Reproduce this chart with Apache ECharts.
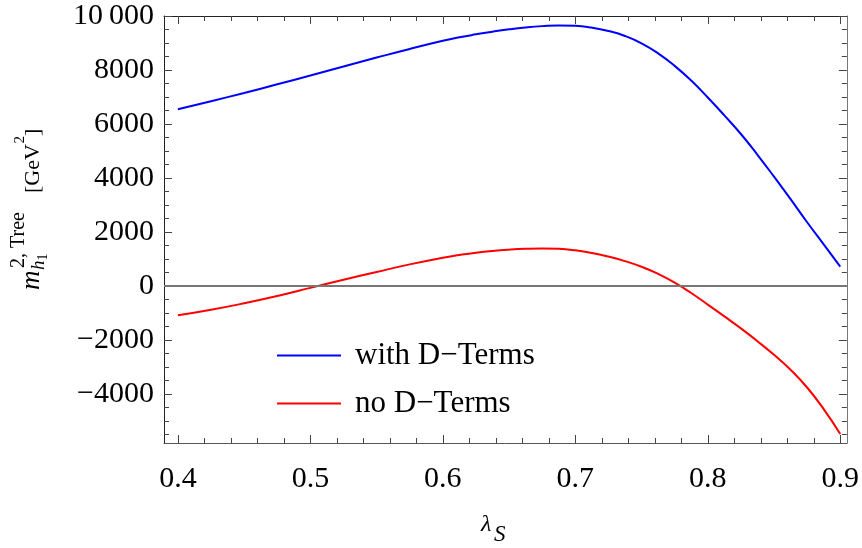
<!DOCTYPE html>
<html><head><meta charset="utf-8">
<script src="https://cdn.jsdelivr.net/npm/echarts@6/dist/echarts.min.js"></script>
<style>html,body{margin:0;padding:0;background:#fff}#c{width:862px;height:548px}</style>
</head><body><div id="c"></div>
<script>
// ---- data ----
const lambdaS = [0.400, 0.425, 0.450, 0.475, 0.500, 0.525, 0.550, 0.575, 0.600, 0.6125, 0.625, 0.6375, 0.650, 0.6625, 0.675, 0.6875,
                 0.700, 0.7125, 0.725, 0.7375, 0.750, 0.7625, 0.775, 0.7875, 0.800, 0.8125, 0.825, 0.8375, 0.850, 0.8625, 0.875, 0.8875, 0.900];
const valBlue = [6544, 6845, 7150, 7470, 7795, 8130, 8460, 8780, 9080, 9210, 9320, 9420, 9506, 9575, 9625, 9652,
                 9641, 9570, 9444, 9260, 8988, 8618, 8153, 7608, 6980, 6320, 5630, 4860, 4050, 3215, 2360, 1540, 716];
const valRed  = [-1086, -880, -640, -370, -70, 230, 520, 800, 1050, 1150, 1235, 1300, 1346, 1376, 1388, 1375,
                 1320, 1225, 1090, 920, 715, 450, 125, -260, -690, -1125, -1570, -2045, -2550, -3100, -3760, -4560, -5481];
const seriesNames = ['with D\u2212Terms', 'no D\u2212Terms'];
const xTicks = [0.4, 0.5, 0.6, 0.7, 0.8, 0.9];
const yTicks = [-4000, -2000, 0, 2000, 4000, 6000, 8000, 10000];

const X_MIN = 0.3895, X_MAX = 0.905, Y_MIN = -5815, Y_MAX = 10000;
const xMinor = [];
for (let k = 20; k <= 45; k++) if (k % 5 !== 0) xMinor.push(+(k * 0.02).toFixed(2));
const yMinor = [];
for (let v = -5500; v <= 9500; v += 500) if (v % 2000 !== 0) yMinor.push(v);

const FONT = '"Liberation Serif", "DejaVu Serif", serif';

function yFmt(v) {
  if (v === 10000) return '10\u2009000';
  if (v < 0) return '\u2212' + Math.abs(v);
  return String(v);
}

function xAx(pos, ticks, len, showLine, showLabel, lineColor) {
  return {
    type: 'value', position: pos, min: X_MIN, max: X_MAX, gridIndex: 0,
    axisLine: { show: showLine, onZero: false, lineStyle: { color: lineColor, width: 1 } },
    axisTick: { show: true, inside: true, length: len, customValues: ticks, lineStyle: { color: '#444', width: 1 } },
    axisLabel: { show: showLabel, customValues: ticks, margin: 21, fontFamily: FONT, fontSize: 30, color: '#000' },
    splitLine: { show: false }, minorTick: { show: false }
  };
}
function yAx(pos, ticks, len, showLine, showLabel, lineColor) {
  return {
    type: 'value', position: pos, min: Y_MIN, max: Y_MAX, gridIndex: 0,
    axisLine: { show: showLine, onZero: false, lineStyle: { color: lineColor, width: 1 } },
    axisTick: { show: true, inside: true, length: len, customValues: ticks, lineStyle: { color: '#444', width: 1 } },
    axisLabel: { show: showLabel, customValues: ticks, margin: 10, fontFamily: FONT, fontSize: 30, color: '#000', formatter: yFmt },
    splitLine: { show: false }, minorTick: { show: false }
  };
}

function txt(text, u, vBase, fs, italic) {
  return { type: 'text', style: { text: text, x: u, y: vBase - 0.3375 * fs, font: (italic ? 'italic ' : '') + fs + 'px ' + FONT, fill: '#000', textAlign: 'left', textVerticalAlign: 'middle' } };
}

const chart = echarts.init(document.getElementById('c'), null, { renderer: 'canvas' });
chart.setOption({
  animation: false,
  backgroundColor: '#fff',
  grid: { left: 164, right: 14, top: 16, bottom: 105, containLabel: false },
  xAxis: [
    xAx('bottom', xTicks, 8, true, true, '#555'),
    xAx('bottom', xMinor, 5, false, false, '#555'),
    xAx('top', xTicks, 8, true, false, '#222'),
    xAx('top', xMinor, 5, false, false, '#222')
  ],
  yAxis: [
    yAx('left', yTicks, 8, true, true, '#222'),
    yAx('left', yMinor, 5, false, false, '#222'),
    yAx('right', yTicks, 8, true, false, '#777'),
    yAx('right', yMinor, 5, false, false, '#777')
  ],
  legend: {
    orient: 'vertical', left: 272, top: 335, itemWidth: 64, itemHeight: 2, itemGap: 17,
    icon: 'rect', data: seriesNames,
    textStyle: { fontFamily: FONT, fontSize: 31, color: '#000', padding: [0, 0, 0, 9] }
  },
  series: [
    {
      type: 'line', name: seriesNames[0], xAxisIndex: 0, yAxisIndex: 0,
      data: lambdaS.map((x, i) => [x, valBlue[i]]),
      smooth: 0.5, symbol: 'none', z: 2,
      lineStyle: { color: '#0000ff', width: 2 }, itemStyle: { color: '#0000ff' },
      markLine: {
        silent: true, symbol: 'none', label: { show: false },
        lineStyle: { color: '#777', width: 2, type: 'solid' },
        data: [{ yAxis: 0 }]
      }
    },
    {
      type: 'line', name: seriesNames[1], xAxisIndex: 0, yAxisIndex: 0,
      data: lambdaS.map((x, i) => [x, valRed[i]]),
      smooth: 0.5, symbol: 'none', z: 3,
      lineStyle: { color: '#ff0000', width: 2 }, itemStyle: { color: '#ff0000' }
    }
  ],
  graphic: [
    {
      type: 'group', x: 41, y: 290, rotation: Math.PI / 2,
      children: [
        txt('m', 0, 0, 27, true),
        txt('h', 20, 4, 19, true),
        txt('1', 29.5, 7, 14, false),
        txt('2, Tree', 22, -16, 20, false),
        txt('[GeV', 97, 0, 22, false),
        txt('2', 146.5, -16, 15, false),
        txt(']', 154, 0, 22, false)
      ]
    },
    txt('\u03bb', 481, 533, 24, true),
    txt('S', 494, 543, 23, true)
  ]
});
</script></body></html>
